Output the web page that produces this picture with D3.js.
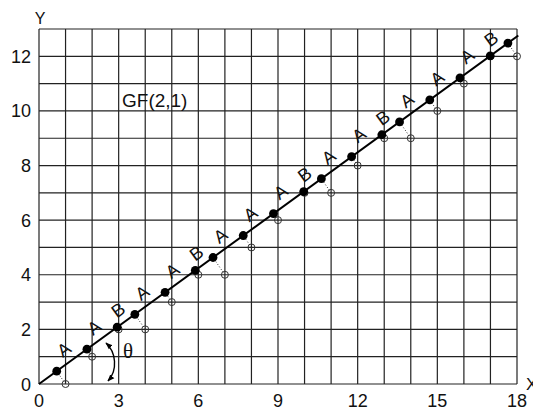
<!DOCTYPE html>
<html>
<head>
<meta charset="utf-8">
<title>GF(2,1)</title>
<script src="https://cdnjs.cloudflare.com/ajax/libs/d3/7.8.5/d3.min.js"></script>
<style>
  body { margin: 0; background: #fff; }
  svg text { font-family: "Liberation Sans", Arial, sans-serif; fill: #111; }
</style>
</head>
<body>
<svg width="533" height="414"></svg>
<script>
// lattice points (open circles)
var latticeX = [1, 2, 3, 4, 5, 6, 7, 8, 9, 10, 11, 12, 13, 14, 15, 16, 17, 18];
var latticeY = [0, 1, 2, 2, 3, 4, 4, 5, 6, 7, 7, 8, 9, 9, 10, 11, 12, 12];
// labels of the segments between consecutive projected points
var segLabels = ["A", "A", "B", "A", "A", "B", "A", "A", "A", "B", "A", "A", "B", "A", "A", "A", "B"];
var slope = 0.707;
var lineEndX = 18.05;
var xTicks = [0, 3, 6, 9, 12, 15, 18];
var yTicks = [0, 2, 4, 6, 8, 10, 12];
var xMax = 18, yMax = 13;

var svg = d3.select("svg");
var x = d3.scaleLinear().domain([0, xMax]).range([39, 517]);
var y = d3.scaleLinear().domain([0, yMax]).range([384, 29]);

// grid
var g = svg.append("g");
g.selectAll("line.v").data(d3.range(0, xMax + 1)).enter().append("line")
  .attr("x1", d => x(d)).attr("x2", d => x(d))
  .attr("y1", y(0)).attr("y2", y(yMax))
  .style("stroke", "#222").style("stroke-width", 1.2);
g.selectAll("line.h").data(d3.range(0, yMax + 1)).enter().append("line")
  .attr("y1", d => y(d)).attr("y2", d => y(d))
  .attr("x1", x(0)).attr("x2", x(xMax))
  .style("stroke", "#222").style("stroke-width", 1.2);

// tick labels
svg.selectAll("text.xt").data(xTicks).enter().append("text")
  .attr("x", d => x(d)).attr("y", 407)
  .attr("text-anchor", "middle").style("font-size", "18px")
  .text(d => d);
svg.selectAll("text.yt").data(yTicks).enter().append("text")
  .attr("x", 31).attr("y", d => y(d) + 6.5)
  .attr("text-anchor", "end").style("font-size", "18px")
  .text(d => d);

svg.append("text").attr("x", 40).attr("y", 23.5).attr("text-anchor", "middle")
  .style("font-size", "16px").text("Y");
svg.append("text").attr("x", 526).attr("y", y(0) + 6)
  .style("font-size", "17px").text("X");
svg.append("text").attr("x", 122).attr("y", 107)
  .style("font-size", "19px").text("GF(2,1)");

// projection of lattice points onto the line y = slope*x
var pts = latticeX.map(function (px, i) {
  var py = latticeY[i];
  var t = (px + slope * py) / (1 + slope * slope);
  return { lx: px, ly: py, qx: t, qy: slope * t };
});

// dotted connectors
svg.selectAll("line.dot").data(pts).enter().append("line")
  .attr("x1", d => x(d.lx)).attr("y1", d => y(d.ly))
  .attr("x2", d => x(d.qx)).attr("y2", d => y(d.qy))
  .style("stroke", "#333").style("stroke-width", 1)
  .style("stroke-dasharray", "1,2");

// open circles
svg.selectAll("circle.open").data(pts).enter().append("circle")
  .attr("cx", d => x(d.lx)).attr("cy", d => y(d.ly)).attr("r", 3.5)
  .style("fill", "none").style("stroke", "#333").style("stroke-width", 1);

// main line
svg.append("line")
  .attr("x1", x(0)).attr("y1", y(0))
  .attr("x2", x(lineEndX)).attr("y2", y(slope * lineEndX))
  .style("stroke", "#000").style("stroke-width", 2);

// projected points
svg.selectAll("circle.fill").data(pts).enter().append("circle")
  .attr("cx", d => x(d.qx)).attr("cy", d => y(d.qy)).attr("r", 4.4)
  .style("fill", "#000");

// segment labels
var ang = Math.atan2(y(0) - y(slope), x(1) - x(0));
var deg = ang * 180 / Math.PI;
var nx = -Math.sin(ang), ny = -Math.cos(ang);
var off = 13.5;
svg.selectAll("text.seg").data(segLabels).enter().append("text")
  .attr("transform", function (d, i) {
    var a = pts[i], b = pts[i + 1];
    var cx = (x(a.qx) + x(b.qx)) / 2 + nx * off;
    var cy = (y(a.qy) + y(b.qy)) / 2 + ny * off;
    return "translate(" + cx + "," + cy + ") rotate(" + (-deg) + ")";
  })
  .attr("text-anchor", "middle").attr("dy", "0.36em")
  .style("font-size", "18px")
  .text(d => d);

// theta annotation
var defs = svg.append("defs");
defs.append("marker").attr("id", "arr").attr("viewBox", "0 0 10 10")
  .attr("refX", 9).attr("refY", 5).attr("markerWidth", 7).attr("markerHeight", 8)
  .attr("markerUnits", "userSpaceOnUse")
  .attr("orient", "auto-start-reverse")
  .append("path").attr("d", "M0,1 L10,5 L0,9 Z").style("fill", "#000");
var ox = x(0), oy = y(0);
var p = d3.path();
p.moveTo(ox + 67, oy - 41);
p.bezierCurveTo(ox + 77, oy - 32, ox + 79, oy - 14, ox + 69, oy - 3);
svg.append("path").attr("d", p.toString())
  .style("fill", "none").style("stroke", "#000").style("stroke-width", 1.4)
  .attr("marker-start", "url(#arr)").attr("marker-end", "url(#arr)");
svg.append("text").attr("x", 128).attr("y", 358).attr("text-anchor", "middle")
  .style("font-family", "'Liberation Serif', 'DejaVu Serif', serif")
  .style("font-size", "21px").text("θ");
</script>
</body>
</html>
